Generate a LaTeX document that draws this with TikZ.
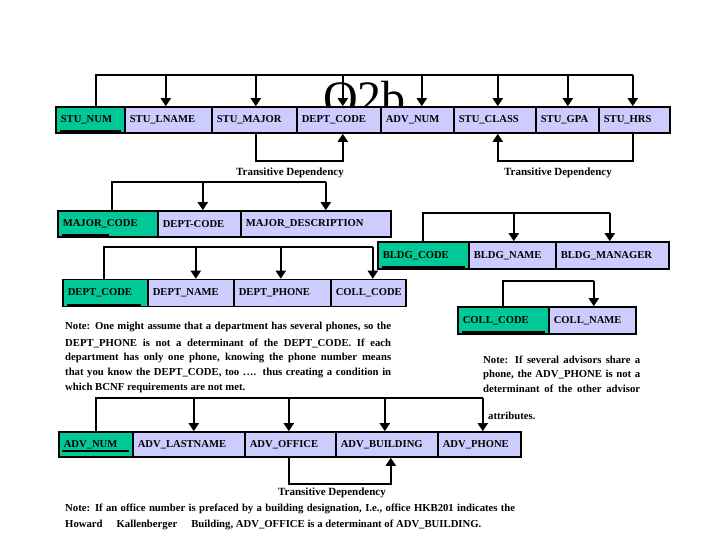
\documentclass[tikz,border=0pt]{standalone}
\usepackage{fontspec}
\setmainfont{Liberation Serif}
\usetikzlibrary{arrows.meta}
\definecolor{keyg}{RGB}{0,200,150}
\definecolor{attrb}{RGB}{204,204,255}
\begin{document}
\begin{tikzpicture}[x=1pt,y=-1pt,
  cellbase/.style={draw=black, line width=1.6pt, inner xsep=5pt, inner ysep=0pt, align=left,
    font=\fontsize{10.6}{12}\selectfont\bfseries, anchor=west},
  keycell/.style={cellbase, fill=keyg},
  attcell/.style={cellbase, fill=attrb},
  conn/.style={line width=2pt},
  arr/.style={line width=2pt, -{Triangle[length=8pt,width=10pt]}},
  uline/.style={line width=1.8pt},
  tdlabel/.style={font=\fontsize{11}{12}\selectfont\bfseries, inner sep=0pt},
  notetext/.style={font=\fontsize{10.7}{12}\selectfont\bfseries, anchor=west, inner sep=0pt}
]
\useasboundingbox (0,0) rectangle (720,540);

% title (behind the boxes)
\node[font=\fontsize{48}{48}\selectfont, anchor=base west, inner sep=0pt] (title) at (323,115) {Q2b};

% ---------- STUDENT row ----------
\node[keycell, text width=59pt, minimum height=26pt] (stunum) at (55,120) {STU\_NUM};
\node[attcell, text width=77pt, minimum height=26pt] (lname) at (124,120) {STU\_LNAME};
\node[attcell, text width=75pt, minimum height=26pt] (major) at (211,120) {STU\_MAJOR};
\node[attcell, text width=74pt, minimum height=26pt] (dept) at (296,120) {DEPT\_CODE};
\node[attcell, text width=63pt, minimum height=26pt] (adv) at (380,120) {ADV\_NUM};
\node[attcell, text width=72pt, minimum height=26pt] (class) at (453,120) {STU\_CLASS};
\node[attcell, text width=53pt, minimum height=26pt] (gpa) at (535,120) {STU\_GPA};
\node[attcell, text width=61pt, minimum height=26pt] (hrs) at (598,120) {STU\_HRS};
\draw[uline] ([xshift=5pt,yshift=3pt]stunum.south west) -- ([xshift=-5pt,yshift=3pt]stunum.south east);

\draw[conn] ([xshift=5.5pt]stunum.north) |- ([xshift=-1.5pt,yshift=31pt]hrs.north);
\draw[arr] ([xshift=-2.5pt,yshift=31pt]lname.north) -- ([xshift=-2.5pt]lname.north);
\draw[arr] ([xshift=1.5pt,yshift=31pt]major.north) -- ([xshift=1.5pt]major.north);
\draw[arr] ([xshift=4pt,yshift=31pt]dept.north) -- ([xshift=4pt]dept.north);
\draw[arr] ([xshift=4.5pt,yshift=31pt]adv.north) -- ([xshift=4.5pt]adv.north);
\draw[arr] ([xshift=3pt,yshift=31pt]class.north) -- ([xshift=3pt]class.north);
\draw[arr] ([xshift=0.5pt,yshift=31pt]gpa.north) -- ([xshift=0.5pt]gpa.north);
\draw[arr] ([xshift=-1.5pt,yshift=31pt]hrs.north) -- ([xshift=-1.5pt]hrs.north);

\draw[arr] ([xshift=1.5pt]major.south) -- ++(0,27) -| ([xshift=4pt]dept.south);
\node[tdlabel] (td1) at (290,173) {Transitive Dependency};
\draw[arr] ([xshift=-1.5pt]hrs.south) -- ++(0,27) -| ([xshift=3pt]class.south);
\node[tdlabel] (td2) at (558,173) {Transitive Dependency};

% ---------- MAJOR row ----------
\node[keycell, text width=90pt, minimum height=26pt] (mcode) at (57,224) {MAJOR\_CODE};
\node[attcell, text width=73pt, minimum height=26pt] (mdept) at (157,224) {DEPT-CODE};
\node[attcell, text width=140pt, minimum height=26pt] (mdesc) at (240,224) {MAJOR\_DESCRIPTION};
\draw[uline] ([xshift=5pt,yshift=2.5pt]mcode.south west) -- ([xshift=-50pt,yshift=2.5pt]mcode.south east);
\draw[conn] ([xshift=4pt]mcode.north) |- ([xshift=10pt,yshift=28pt]mdesc.north);
\draw[arr] ([xshift=3.5pt,yshift=28pt]mdept.north) -- ([xshift=3.5pt]mdept.north);
\draw[arr] ([xshift=10pt,yshift=28pt]mdesc.north) -- ([xshift=10pt]mdesc.north);

% ---------- BUILDING row ----------
\node[keycell, text width=81pt, minimum height=27pt] (bcode) at (377,255.5) {BLDG\_CODE};
\node[attcell, text width=77pt, minimum height=27pt] (bname) at (468,255.5) {BLDG\_NAME};
\node[attcell, text width=103pt, minimum height=27pt] (bman) at (555,255.5) {BLDG\_MANAGER};
\draw[uline] ([xshift=5pt,yshift=3pt]bcode.south west) -- ([xshift=-5pt,yshift=3pt]bcode.south east);
\draw[conn] ([xshift=-0.5pt]bcode.north) |- ([xshift=-2.5pt,yshift=28pt]bman.north);
\draw[arr] ([xshift=1.5pt,yshift=28pt]bname.north) -- ([xshift=1.5pt]bname.north);
\draw[arr] ([xshift=-2.5pt,yshift=28pt]bman.north) -- ([xshift=-2.5pt]bman.north);

% ---------- DEPARTMENT row ----------
\node[keycell, text width=75pt, minimum height=27pt] (dcode) at (62,293) {DEPT\_CODE};
\node[attcell, text width=76pt, minimum height=27pt] (dname) at (147,293) {DEPT\_NAME};
\node[attcell, text width=87pt, minimum height=27pt] (dphone) at (233,293) {DEPT\_PHONE};
\node[attcell, text width=65pt, minimum height=27pt] (dcoll) at (330,293) {COLL\_CODE};
\draw[uline] ([xshift=5pt,yshift=2.5pt]dcode.south west) -- ([xshift=-8pt,yshift=2.5pt]dcode.south east);
\draw[conn] ([xshift=-1.5pt]dcode.north) |- ([xshift=4.5pt,yshift=31.5pt]dcoll.north);
\draw[arr] ([xshift=5pt,yshift=31.5pt]dname.north) -- ([xshift=5pt]dname.north);
\draw[arr] ([xshift=-1.5pt,yshift=31.5pt]dphone.north) -- ([xshift=-1.5pt]dphone.north);
\draw[arr] ([xshift=4.5pt,yshift=31.5pt]dcoll.north) -- ([xshift=4.5pt]dcoll.north);

% ---------- COLLEGE row ----------
\node[keycell, text width=81pt, minimum height=27pt] (ccode) at (457,320.5) {COLL\_CODE};
\node[attcell, text width=77pt, minimum height=27pt] (cname) at (548,320.5) {COLL\_NAME};
\draw[uline] ([xshift=5pt,yshift=3pt]ccode.south west) -- ([xshift=-5pt,yshift=3pt]ccode.south east);
\draw[conn] ([xshift=-0.5pt]ccode.north) |- ([xshift=1.5pt,yshift=25pt]cname.north);
\draw[arr] ([xshift=1.5pt,yshift=25pt]cname.north) -- ([xshift=1.5pt]cname.north);

% ---------- notes ----------
\node[notetext] (nl1) at (65,327) {\makebox[326pt][s]{Note: One might assume that a department has several phones, so the}};
\node[notetext] (nl2) at (65,343) {\makebox[326pt][s]{DEPT\_PHONE is not a determinant of the DEPT\_CODE. If each}};
\node[notetext] (nl3) at (65,358) {\makebox[326pt][s]{department has only one phone, knowing the phone number means}};
\node[notetext] (nl4) at (65,373) {\makebox[326pt][s]{that you know the DEPT\_CODE, too …. thus creating a condition in}};
\node[notetext] (nl5) at (65,388) {which BCNF requirements are not met.};

\node[notetext] (nr1) at (483,360) {\makebox[157pt][s]{Note: If several advisors share a}};
\node[notetext] (nr2) at (483,375) {\makebox[157pt][s]{phone, the ADV\_PHONE is not a}};
\node[notetext] (nr3) at (483,389) {\makebox[157pt][s]{determinant of the other advisor}};
\node[notetext] (nr4) at (488,416) {attributes.};

% ---------- ADVISOR row ----------
\node[keycell, text width=64pt, minimum height=25pt] (anum) at (58,444.5) {ADV\_NUM};
\node[attcell, text width=102pt, minimum height=25pt] (alast) at (132,444.5) {ADV\_LASTNAME};
\node[attcell, text width=81pt, minimum height=25pt] (aoff) at (244,444.5) {ADV\_OFFICE};
\node[attcell, text width=92pt, minimum height=25pt] (abld) at (335,444.5) {ADV\_BUILDING};
\node[attcell, text width=73pt, minimum height=25pt] (aphone) at (437,444.5) {ADV\_PHONE};
\draw[uline] ([xshift=4pt,yshift=6.5pt]anum.south west) -- ([xshift=-5pt,yshift=6.5pt]anum.south east);
\draw[conn] (anum.north) |- ([xshift=3.5pt,yshift=33pt]aphone.north);
\draw[arr] ([xshift=5pt,yshift=33pt]alast.north) -- ([xshift=5pt]alast.north);
\draw[arr] ([xshift=-1.5pt,yshift=33pt]aoff.north) -- ([xshift=-1.5pt]aoff.north);
\draw[arr] ([xshift=-2pt,yshift=33pt]abld.north) -- ([xshift=-2pt]abld.north);
\draw[arr] ([xshift=3.5pt,yshift=33pt]aphone.north) -- ([xshift=3.5pt]aphone.north);

\draw[arr] ([xshift=-1.5pt]aoff.south) -- ++(0,26) -| ([xshift=4pt]abld.south);
\node[tdlabel] (td3) at (332,493) {Transitive Dependency};

\node[notetext] (nb1) at (65,509) {\makebox[450pt][s]{Note: If an office number is prefaced by a building designation, I.e., office HKB201 indicates the}};
\node[notetext] (nb2) at (65,525) {Howard\hspace{14pt}Kallenberger\hspace{14pt}Building, ADV\_OFFICE is a determinant of ADV\_BUILDING.};
\end{tikzpicture}
\end{document}
